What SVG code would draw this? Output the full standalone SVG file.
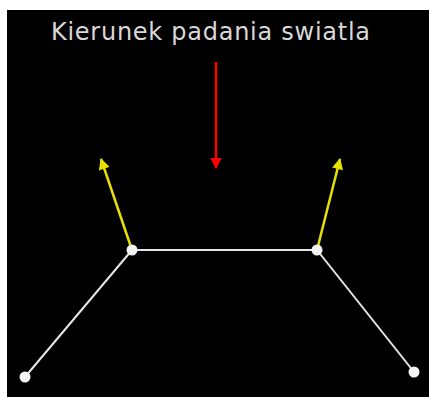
<svg xmlns="http://www.w3.org/2000/svg" width="429" height="397" viewBox="0 0 429 397">
<defs>
<style>
.bar{stroke:#e6e6e6;stroke-width:2;fill:none}
.ya{stroke:#e8e000;stroke-width:2.5;fill:none;marker-end:url(#my)}
.ra{stroke:#ff0000;stroke-width:2.5;fill:none;marker-end:url(#mr)}
.pt{fill:#f4f4f4}
.lbl{font-family:"DejaVu Sans",sans-serif;font-size:24px;fill:#d8d8d8}
</style>
<marker id="my" viewBox="0 0 10 10" refX="9" refY="5" markerWidth="5" markerHeight="4.5" orient="auto" markerUnits="strokeWidth"><path d="M0,0 L10,5 L0,10 z" fill="#e8e000"/></marker>
<marker id="mr" viewBox="0 0 10 10" refX="9" refY="5" markerWidth="5" markerHeight="4.5" orient="auto" markerUnits="strokeWidth"><path d="M0,0 L10,5 L0,10 z" fill="#ff0000"/></marker>
</defs>
<rect x="7" y="10" width="422" height="387" fill="#000"/>
<g id="title"><text class="lbl" x="51" y="40" textLength="319" lengthAdjust="spacing">Kierunek padania swiatla</text></g>
<g id="connectors">
<line class="bar" x1="25" y1="377" x2="132" y2="250"/>
<line class="bar" x1="132" y1="250" x2="317" y2="250"/>
<line class="bar" x1="317" y1="250" x2="414" y2="372"/>
<line class="ya" x1="132" y1="250" x2="101" y2="159"/>
<line class="ya" x1="317" y1="250" x2="340" y2="159"/>
<line class="ra" x1="216" y1="62" x2="216" y2="168"/>
</g>
<g id="n1"><circle class="pt" cx="25" cy="377" r="5.5"/></g>
<g id="n2"><circle class="pt" cx="132" cy="250" r="5.5"/></g>
<g id="n3"><circle class="pt" cx="317" cy="250" r="5.5"/></g>
<g id="n4"><circle class="pt" cx="414" cy="372" r="5.5"/></g>
</svg>
